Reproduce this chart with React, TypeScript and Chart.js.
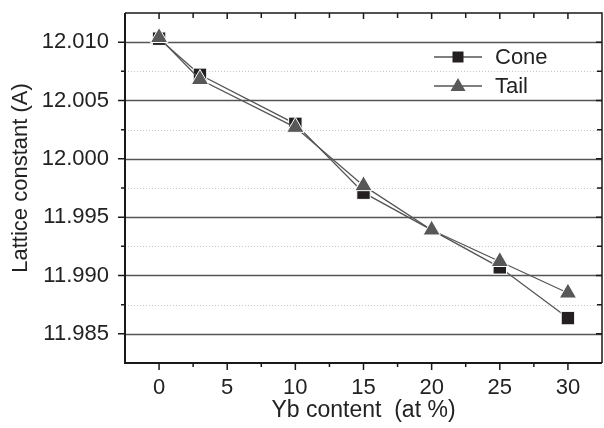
import React, { useEffect, useRef } from "react";
import { Chart, registerables } from "chart.js";

Chart.register(...registerables);

const coneX = [0, 3, 10, 15, 25, 30];
const coneY = [12.0103, 12.0072, 12.003, 11.9971, 11.9907, 11.98635];
const tailX = [0, 3, 10, 15, 20, 25, 30];
const tailY = [12.0104, 12.0068, 12.0027, 11.9977, 11.9939, 11.9912, 11.9885];

const xTicks = [0, 5, 10, 15, 20, 25, 30];
const xMinorTicks = [2.5, 7.5, 12.5, 17.5, 22.5, 27.5];
const yTicks = [11.985, 11.99, 11.995, 12.0, 12.005, 12.01];
const yMinorTicks = [11.9875, 11.9925, 11.9975, 12.0025, 12.0075];

const FONT = "'Liberation Sans', Arial, Helvetica, sans-serif";

const zeroPad = (s: any) => {
  s.paddingTop = 0;
  s.paddingBottom = 0;
  s.paddingLeft = 0;
  s.paddingRight = 0;
};

const framePlugin = {
  id: "framePlugin",
  beforeDatasetsDraw(chart: any) {
    const { ctx, chartArea: a, scales } = chart;
    const ys = scales.y;
    ctx.save();
    ctx.strokeStyle = "#c8c8c8";
    ctx.lineWidth = 1;
    ctx.setLineDash([1, 2]);
    for (const v of yMinorTicks) {
      const y = Math.round(ys.getPixelForValue(v)) + 0.5;
      ctx.beginPath();
      ctx.moveTo(a.left, y);
      ctx.lineTo(a.right, y);
      ctx.stroke();
    }
    ctx.setLineDash([]);
    ctx.strokeStyle = "#555";
    ctx.lineWidth = 1.3;
    for (const v of yTicks) {
      const y = Math.round(ys.getPixelForValue(v)) + 0.5;
      ctx.beginPath();
      ctx.moveTo(a.left, y);
      ctx.lineTo(a.right, y);
      ctx.stroke();
    }
    ctx.restore();
  },
  afterDatasetsDraw(chart: any) {
    const { ctx, chartArea: a, scales } = chart;
    const xs = scales.x;
    const ys = scales.y;
    ctx.save();
    ctx.strokeStyle = "#1a1a1a";
    ctx.lineWidth = 1.5;
    ctx.beginPath();
    ctx.moveTo(a.left, a.top);
    ctx.lineTo(a.right, a.top);
    ctx.lineTo(a.right, a.bottom);
    ctx.stroke();
    ctx.lineWidth = 2;
    ctx.beginPath();
    ctx.moveTo(a.left, a.top);
    ctx.lineTo(a.left, a.bottom);
    ctx.lineTo(a.right, a.bottom);
    ctx.stroke();
    ctx.lineWidth = 1.5;
    for (const v of xTicks) {
      const x = xs.getPixelForValue(v);
      ctx.beginPath();
      ctx.moveTo(x, a.bottom);
      ctx.lineTo(x, a.bottom + 7);
      ctx.moveTo(x, a.top);
      ctx.lineTo(x, a.top + 6);
      ctx.stroke();
    }
    for (const v of xMinorTicks) {
      const x = xs.getPixelForValue(v);
      ctx.beginPath();
      ctx.moveTo(x, a.bottom);
      ctx.lineTo(x, a.bottom + 4);
      ctx.moveTo(x, a.top);
      ctx.lineTo(x, a.top + 5);
      ctx.stroke();
    }
    for (const v of yTicks) {
      const y = ys.getPixelForValue(v);
      ctx.beginPath();
      ctx.moveTo(a.left - 7, y);
      ctx.lineTo(a.left, y);
      ctx.moveTo(a.right - 6, y);
      ctx.lineTo(a.right, y);
      ctx.stroke();
    }
    for (const v of yMinorTicks) {
      const y = ys.getPixelForValue(v);
      ctx.beginPath();
      ctx.moveTo(a.left - 4, y);
      ctx.lineTo(a.left, y);
      ctx.moveTo(a.right - 5, y);
      ctx.lineTo(a.right, y);
      ctx.stroke();
    }
    ctx.fillStyle = "#222";
    ctx.textAlign = "center";
    ctx.textBaseline = "middle";
    ctx.font = `23px ${FONT}`;
    ctx.fillText("Yb content  (at %)", (a.left + a.right) / 2, 411);
    ctx.save();
    ctx.font = `22px ${FONT}`;
    ctx.translate(21, 178);
    ctx.rotate(-Math.PI / 2);
    ctx.fillText("Lattice constant (A)", 0, 0);
    ctx.restore();
    const lx0 = 434, lx1 = 482, lc = 458;
    const rows = [
      { y: 57, label: "Cone", kind: "rect" },
      { y: 86, label: "Tail", kind: "tri" },
    ];
    for (const r of rows) {
      ctx.strokeStyle = "#555";
      ctx.lineWidth = 1.3;
      ctx.beginPath();
      ctx.moveTo(lx0, r.y);
      ctx.lineTo(lx1, r.y);
      ctx.stroke();
      if (r.kind === "rect") {
        ctx.fillStyle = "#231f20";
        ctx.fillRect(lc - 5.5, r.y - 5.5, 11, 11);
      } else {
        ctx.fillStyle = "#585858";
        ctx.beginPath();
        ctx.moveTo(lc, r.y - 8);
        ctx.lineTo(lc + 7.5, r.y + 5);
        ctx.lineTo(lc - 7.5, r.y + 5);
        ctx.closePath();
        ctx.fill();
      }
      ctx.fillStyle = "#222";
      ctx.font = `22px ${FONT}`;
      ctx.textAlign = "left";
      ctx.textBaseline = "middle";
      ctx.fillText(r.label, 495, r.y + 1);
    }
    ctx.restore();
  },
};

export default function App() {
  const ref = useRef<HTMLCanvasElement | null>(null);
  useEffect(() => {
    document.body.style.margin = "0";
    const canvas = ref.current!;
    const chart = new Chart(canvas, {
      type: "line",
      data: {
        datasets: [
          {
            label: "Tail",
            data: tailX.map((x, i) => ({ x, y: tailY[i] })),
            borderColor: "#555",
            borderWidth: 1.3,
            pointStyle: "triangle",
            pointRadius: 10,
            pointBackgroundColor: "#585858",
            pointBorderColor: "#ffffff",
            pointBorderWidth: 1,
            order: 0,
          },
          {
            label: "Cone",
            data: coneX.map((x, i) => ({ x, y: coneY[i] })),
            borderColor: "#555",
            borderWidth: 1.3,
            pointStyle: "rect",
            pointRadius: 9.5,
            pointBackgroundColor: "#231f20",
            pointBorderColor: "#ffffff",
            pointBorderWidth: 1,
            order: 1,
          },
        ],
      },
      options: {
        animation: false,
        responsive: false,
        devicePixelRatio: 1,
        layout: { autoPadding: false, padding: { top: 13, right: 2, left: 0, bottom: 0 } },
        plugins: { legend: { display: false }, tooltip: { enabled: false } },
        scales: {
          x: {
            type: "linear",
            min: -2.5,
            max: 32.5,
            afterBuildTicks: (s: any) => {
              s.ticks = xTicks.map((v) => ({ value: v }));
            },
            afterFit: (s: any) => {
              s.height = 65;
              zeroPad(s);
            },
            grid: { display: true, color: "rgba(0,0,0,0)", drawOnChartArea: false, drawTicks: false, tickLength: 0 },
            border: { display: false },
            ticks: {
              color: "#222",
              font: { family: FONT, size: 22 },
              padding: 12,
              maxRotation: 0,
              callback: (v: any) => String(v),
            },
          },
          y: {
            type: "linear",
            min: 11.9825,
            max: 12.0125,
            afterBuildTicks: (s: any) => {
              s.ticks = yTicks.map((v) => ({ value: v }));
            },
            afterFit: (s: any) => {
              s.width = 125;
              zeroPad(s);
            },
            grid: { display: true, color: "rgba(0,0,0,0)", drawOnChartArea: false, drawTicks: false, tickLength: 0 },
            border: { display: false },
            ticks: {
              color: "#222",
              font: { family: FONT, size: 22 },
              padding: 16,
              callback: (v: any) => Number(v).toFixed(3),
            },
          },
        },
      },
      plugins: [framePlugin],
    });
    return () => chart.destroy();
  }, []);
  return (
    <div style={{ position: "absolute", left: 0, top: 0, width: 604, height: 428 }}>
      <canvas ref={ref} width={604} height={428} />
    </div>
  );
}
